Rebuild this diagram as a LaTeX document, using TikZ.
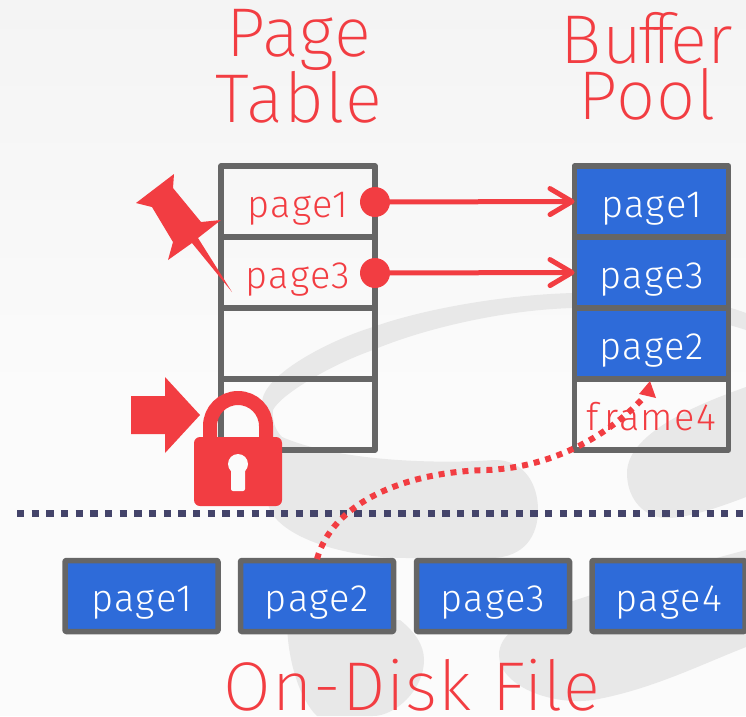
\documentclass[tikz,border=0pt]{standalone}
\usepackage{fontspec}
\setmainfont{Fira Sans}[UprightFont={* Light}]
\newfontfamily\titlefont{Fira Sans}[UprightFont={* ExtraLight},LetterSpace=1.5]
\newfontfamily\cellfont{Fira Sans}[UprightFont={* Light},LetterSpace=4]
\usetikzlibrary{arrows.meta,shadings}
\definecolor{cred}{HTML}{F23D42}
\definecolor{cgray}{HTML}{666666}
\definecolor{cblue}{HTML}{2E6BD9}
\definecolor{cnavy}{HTML}{44446A}
\definecolor{wm}{HTML}{E8E8E8}
\definecolor{bgtop}{HTML}{F4F4F4}
\definecolor{bgbot}{HTML}{FBFBFB}
\tikzset{
 cell/.style={draw=cgray,line width=5.5pt,line join=round,minimum width=154pt,minimum height=71pt,inner sep=0pt,outer sep=0pt,anchor=north west,font=\cellfont\fontsize{38}{40}\selectfont,text=cred,text height=37pt,text depth=6pt},
 bluecell/.style={cell,fill=cblue,text=white},
 diskcell/.style={cell,fill=cblue,text=white,minimum width=153pt,rounded corners=1pt},
 title/.style={font=\titlefont\fontsize{69}{56}\selectfont,text=cred,align=center,inner sep=0pt},
 dotcircle/.style={circle,fill=cred,minimum size=30pt,inner sep=0pt,outer sep=0pt},
 link/.style={cred,line width=5pt,-{Straight Barb[length=22pt,width=26pt,round]}}
}
\begin{document}
\begin{tikzpicture}[x=1pt,y=-1pt]
\useasboundingbox (0,0) rectangle (746,716);
\shade[top color=bgtop,bottom color=bgbot,shading angle=0] (0,0) rectangle (746,400);
\fill[bgbot] (0,400) rectangle (746,716);
% watermark
\begin{scope}
\clip (0,0) rectangle (746,716);
\fill[wm] (746,313) .. controls (700,296) and (640,290) .. (573,293)
 .. controls (500,295) and (420,310) .. (373,327)
 .. controls (330,340) and (262,375) .. (262,403)
 .. controls (262,430) and (262,490) .. (270,510)
 .. controls (285,540) and (350,558) .. (407,558)
 -- (490,558) .. controls (525,558) and (538,535) .. (538,510)
 .. controls (538,485) and (525,460) .. (495,460)
 .. controls (440,464) and (340,462) .. (282,437)
 .. controls (275,430) and (272,420) .. (273,410)
 .. controls (280,395) and (330,365) .. (373,350)
 .. controls (420,330) and (500,310) .. (573,308)
 .. controls (640,305) and (700,315) .. (746,330) -- cycle;
\fill[wm] (746,387) .. controls (710,400) and (627,430) .. (627,473)
 .. controls (627,500) and (645,518) .. (667,518)
 .. controls (690,518) and (725,505) .. (746,497) -- cycle;
\fill[wm] (746,550) .. controls (690,565) and (620,585) .. (567,603)
 .. controls (520,620) and (499,635) .. (499,655)
 .. controls (499,685) and (550,706) .. (593,700)
 .. controls (650,690) and (700,665) .. (746,647) -- cycle;
\fill[wm] (287,620) -- (400,620) .. controls (415,632) and (424,645) .. (424,660)
 .. controls (424,690) and (395,716) .. (373,716) -- (317,716)
 .. controls (300,700) and (287,660) .. (287,620) -- cycle;
\end{scope}
% titles
\node[title] (tpage) at (299,66) {Page\\Table};
\node[title] (tbuf) at (647,66) {Bu\kern-4pt f\kern-8pt f\kern-4pt er\\Pool};
\node[title] (tdisk) at (412,685) {On-Disk File};
% page table
\node[cell] (p1) at (221,166) {page1};
\node[cell] (p3) at (221,237) {page3};
\node[cell] (p5) at (221,308) {};
\node[cell] (p6) at (221,379) {};
% buffer pool
\node[bluecell] (b1) at (574.5,166) {page1};
\node[bluecell] (b3) at (574.5,237) {page3};
\node[bluecell] (b2) at (574.5,308) {page2};
\node[cell] (b4) at (574.5,379) {f\kern6pt rame4};
% disk
\node[diskcell] (d1) at (65,560.5) {page1};
\node[diskcell] (d2) at (240.5,560.5) {page2};
\node[diskcell] (d3) at (416.5,560.5) {page3};
\node[diskcell] (d4) at (592,560.5) {page4};
% dotted line
\coordinate (dl) at (17,513);
\coordinate (dr) at (746,513);
\draw[cnavy,line width=7pt,dash pattern=on 7.3pt off 7.37pt] (dl) -- (dr);
% links
\node[dotcircle] (c1) at (375,202) {};
\node[dotcircle] (c3) at (375,273) {};
\draw[link] (c1) -- (b1.west);
\draw[link] (c3) -- (b3.west);
% pin
\fill[cred] (174,174) -- (136,203) -- (152,207) -- (173,242) -- (168,260) -- (192,243) -- (232,292) -- (198,238) -- (221,220) -- (201,222) -- (173,188) -- cycle;
% red arrow
\fill[cred] (131,396) -- (165,396) -- (165,377) -- (200,415) -- (165,453) -- (165,434) -- (131,434) -- cycle;
% lock
\draw[cred,line width=14pt] (210,445) -- (210,426) .. controls (210,410.5) and (222.5,398) .. (238,398) .. controls (253.5,398) and (266,410.5) .. (266,426) -- (266,445);
\fill[cred,rounded corners=6pt] (194,437) rectangle (282,506);
\fill[bgbot] (238,464) circle (10);
\fill[bgbot,rounded corners=2pt] (231,466) rectangle (245,491);
% dotted curve
\coordinate (ctip) at (650,381);
\coordinate (cstart) at (317,559);
\draw[cred,line width=6pt,dash pattern=on 6pt off 6pt] (cstart) .. controls (332,505) and (400,472) .. (487,470) .. controls (540,468) and (600,445) .. (645,396);
\fill[cred] (ctip) -- (656,398) -- (639,394) -- cycle;
\end{tikzpicture}
\end{document}
